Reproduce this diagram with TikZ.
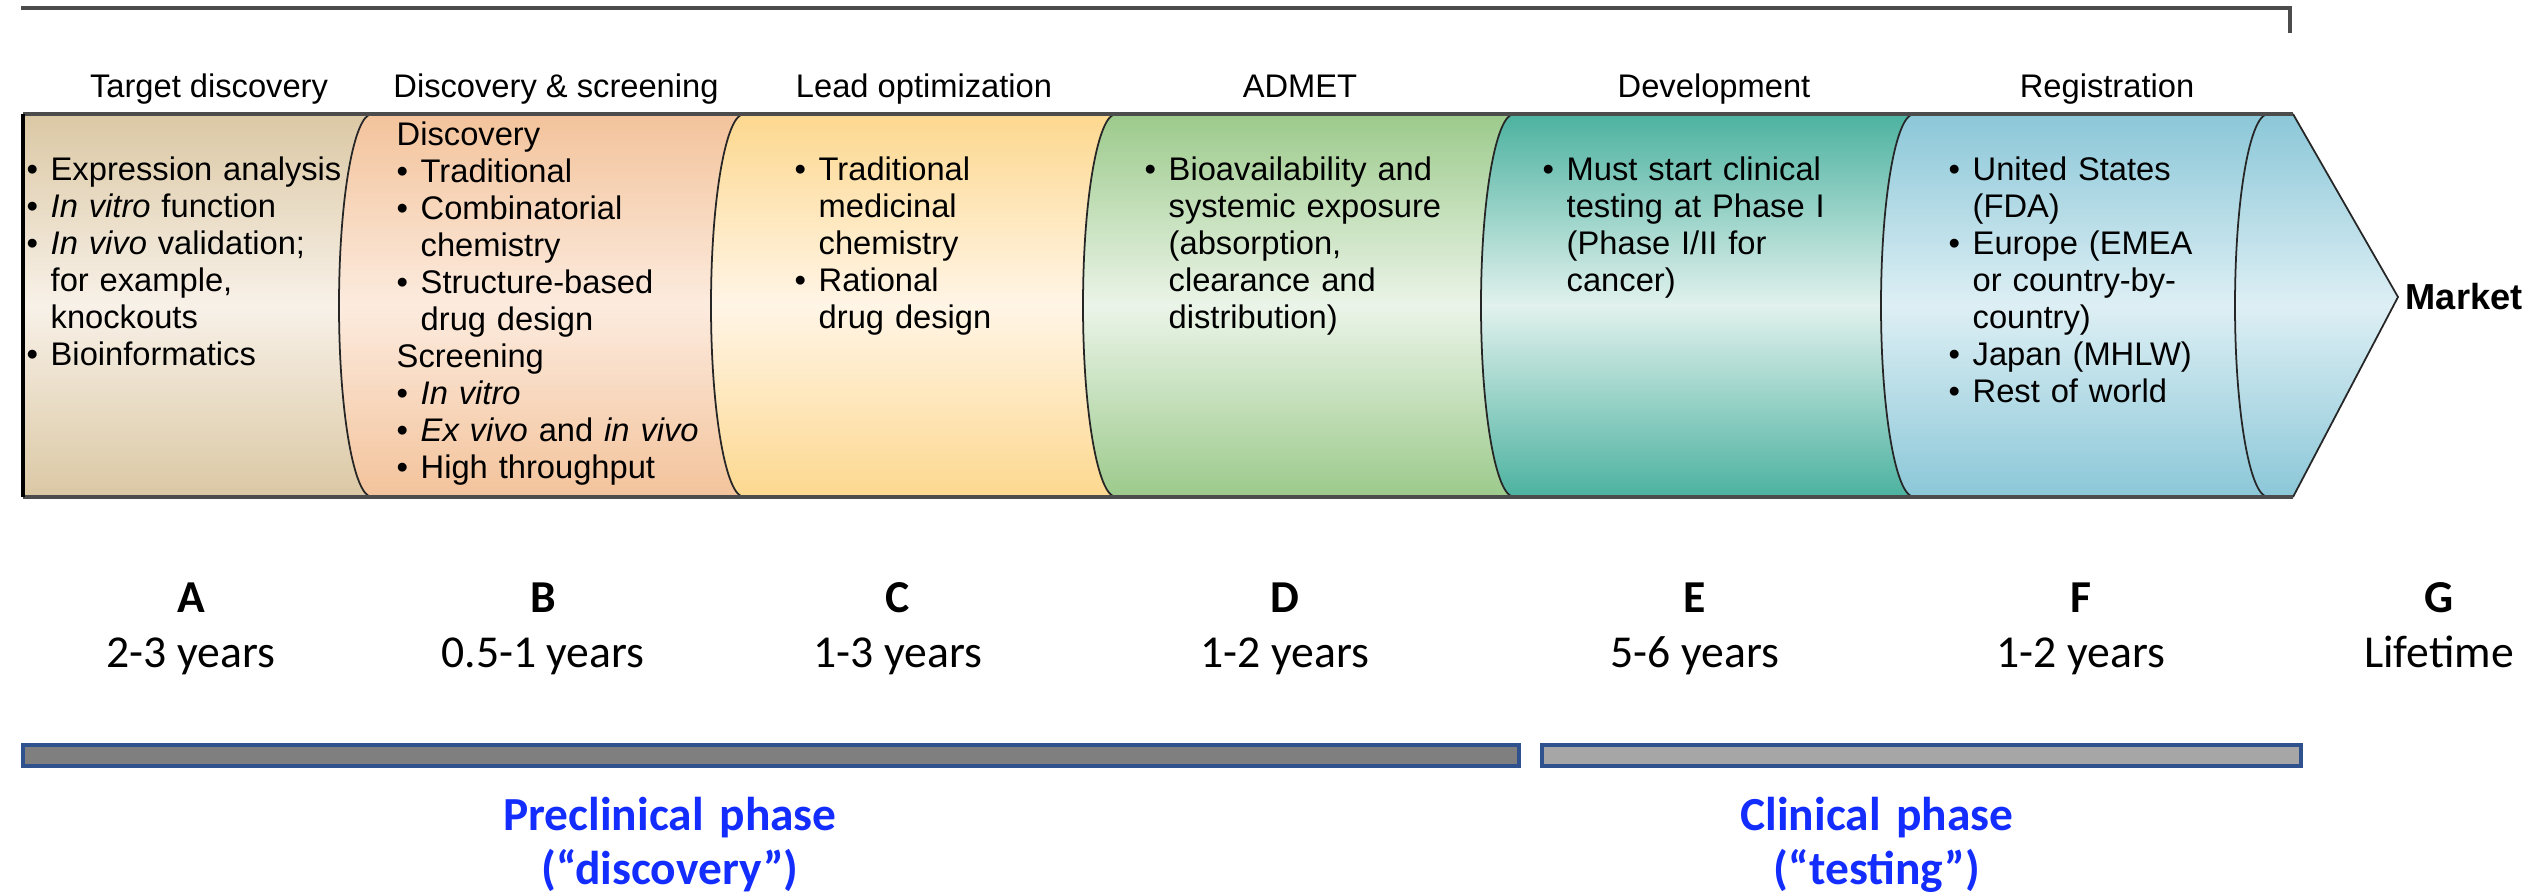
\documentclass[tikz,border=0pt]{standalone}
\usepackage{fontspec}
\setmainfont{Liberation Sans}
\newfontfamily\carlito{Carlito}
\usetikzlibrary{calc}

% stage colours: edge tone and centre tone of each cylinder piece
\definecolor{tgtEdge}{RGB}{219,200,164}
\definecolor{tgtMid}{RGB}{248,241,232}
\definecolor{scrEdge}{RGB}{243,195,155}
\definecolor{scrMid}{RGB}{252,235,222}
\definecolor{leadEdge}{RGB}{253,216,143}
\definecolor{leadMid}{RGB}{255,245,230}
\definecolor{admEdge}{RGB}{156,202,139}
\definecolor{admMid}{RGB}{235,244,232}
\definecolor{devEdge}{RGB}{76,178,160}
\definecolor{devMid}{RGB}{225,241,237}
\definecolor{regEdge}{RGB}{139,199,216}
\definecolor{regMid}{RGB}{221,239,244}
\definecolor{phaseBlue}{RGB}{20,45,255}
\definecolor{barEdge}{RGB}{47,82,143}
\definecolor{barDark}{RGB}{127,127,127}
\definecolor{barLight}{RGB}{166,166,166}

\newcommand{\bul}{\makebox[0.24cm][l]{\textbullet}}
\newcommand{\ind}{\hspace*{0.24cm}}

\begin{document}
\begin{tikzpicture}[font=\fontsize{9.3pt}{10.5pt}\selectfont]
  \tikzset{
    stage/.style n args={2}{top color=#1, bottom color=#1, middle color=#2},
    rim/.style={line width=0.5pt, black!85},
    band/.style={line width=1.1pt, black!70},
    head/.style={anchor=base, inner sep=0pt},
    stagetext/.style={anchor=base west, inner sep=0pt, text width=3.6cm, align=left},
    stagelabel/.style={anchor=base, inner sep=0pt, font=\carlito\fontsize{13pt}{15pt}\selectfont\bfseries},
    duration/.style={anchor=base, inner sep=0pt, font=\carlito\fontsize{13pt}{15pt}\selectfont},
    phase/.style={anchor=base, inner sep=0pt, text width=6cm, align=center, text=phaseBlue,
      font=\carlito\fontsize{13.5pt}{15.6pt}\selectfont\bfseries},
    phasebar/.style={draw=barEdge, line width=1.2pt},
  }
  \useasboundingbox (0,0) rectangle (25.34,-8.95);

  % band top/bottom and the ellipse radii of the cuts
  \def\yt{-1.14}
  \def\yb{-4.97}
  \def\rx{0.33}
  \def\ry{1.915}

  % first piece has a flat left end
  \path[stage={tgtEdge}{tgtMid}] (0.23,\yt) -- (3.72,\yt)
    arc[start angle=90, end angle=270, x radius=\rx, y radius=\ry]
    -- (0.23,\yb) -- cycle;

  \foreach \xl/\xr/\ec/\mc in {
    3.72/7.44/scrEdge/scrMid,
    7.44/11.16/leadEdge/leadMid,
    11.16/15.14/admEdge/admMid,
    15.14/19.14/devEdge/devMid,
    19.14/22.68/regEdge/regMid%
  }{
    \path[stage={\ec}{\mc}] (\xl,\yt) -- (\xr,\yt)
      arc[start angle=90, end angle=270, x radius=\rx, y radius=\ry]
      -- (\xl,\yb)
      arc[start angle=270, end angle=90, x radius=\rx, y radius=\ry] -- cycle;
  }

  % pointed end cap
  \path[stage={regEdge}{regMid}] (22.68,\yt) -- (22.93,\yt) -- (23.98,-2.97)
    -- (22.93,\yb) -- (22.68,\yb)
    arc[start angle=270, end angle=90, x radius=\rx, y radius=\ry] -- cycle;

  \foreach \x in {3.72,7.44,11.16,15.14,19.14,22.68}
    \draw[rim] (\x,\yt) arc[start angle=90, end angle=270, x radius=\rx, y radius=\ry];

  \draw[rim] (22.93,\yt) -- (23.98,-2.97) -- (22.93,\yb);
  \draw[band] (0.23,\yt) -- (22.93,\yt);
  \draw[band] (0.23,\yb) -- (22.93,\yb);
  \draw[line width=1pt, black] (0.23,\yt) -- (0.23,\yb);

  % bracket over the whole pipeline
  \draw[band] (0.21,-0.08) -- (22.90,-0.08) -- (22.90,-0.33);

  \node[anchor=west, inner sep=0pt, font=\fontsize{10.3pt}{12pt}\selectfont\bfseries]
    (market) at (24.05,-2.97) {Market};

  % stage headings
  \foreach \n/\x/\t in {
    tgt/2.09/Target discovery,
    scr/5.56/Discovery \& screening,
    lead/9.24/Lead optimization,
    adm/13.00/ADMET,
    dev/17.14/Development,
    reg/21.07/Registration%
  }{
    \node[head] (head-\n) at (\x,-0.98) {\t};
  }

  % contents of each stage
  \node[stagetext] (txt-tgt) at (0.26,-1.81) {%
    \bul Expression analysis\\
    \bul\textit{In vitro} function\\
    \bul\textit{In vivo} validation;\\
    \ind for example,\\
    \ind knockouts\\
    \bul Bioinformatics};
  \node[stagetext] (txt-scr) at (3.96,-1.46) {%
    Discovery\\
    \bul Traditional\\
    \bul Combinatorial\\
    \ind chemistry\\
    \bul Structure-based\\
    \ind drug design\\
    Screening\\
    \bul\textit{In vitro}\\
    \bul\textit{Ex vivo} and \textit{in vivo}\\
    \bul High throughput};
  \node[stagetext] (txt-lead) at (7.94,-1.81) {%
    \bul Traditional\\
    \ind medicinal\\
    \ind chemistry\\
    \bul Rational\\
    \ind drug design};
  \node[stagetext] (txt-adm) at (11.44,-1.81) {%
    \bul Bioavailability and\\
    \ind systemic exposure\\
    \ind (absorption,\\
    \ind clearance and\\
    \ind distribution)};
  \node[stagetext] (txt-dev) at (15.42,-1.81) {%
    \bul Must start clinical\\
    \ind testing at Phase I\\
    \ind (Phase I/II for\\
    \ind cancer)};
  \node[stagetext] (txt-reg) at (19.48,-1.81) {%
    \bul United States\\
    \ind (FDA)\\
    \bul Europe (EMEA\\
    \ind or country-by-\\
    \ind country)\\
    \bul Japan (MHLW)\\
    \bul Rest of world};

  % stage letters and durations
  \foreach \n/\x/\d in {
    A/1.91/2-3 years,
    B/5.43/0.5-1 years,
    C/8.98/1-3 years,
    D/12.85/1-2 years,
    E/16.95/5-6 years,
    F/20.81/1-2 years,
    G/24.39/Lifetime%
  }{
    \node[stagelabel] (stage-\n) at (\x,-6.12) {\n};
    \node[duration] (time-\n) at (\x,-6.67) {\d};
  }

  % phase bars
  \draw[phasebar, fill=barDark] (0.23,-7.45) rectangle (15.19,-7.66);
  \draw[phasebar, fill=barLight] (15.42,-7.45) rectangle (23.01,-7.66);

  \node[phase] (preclinical) at (6.70,-8.30) {Preclinical phase\\(“discovery”)};
  \node[phase] (clinical) at (18.77,-8.30) {Clinical phase\\(“testing”)};
\end{tikzpicture}
\end{document}
